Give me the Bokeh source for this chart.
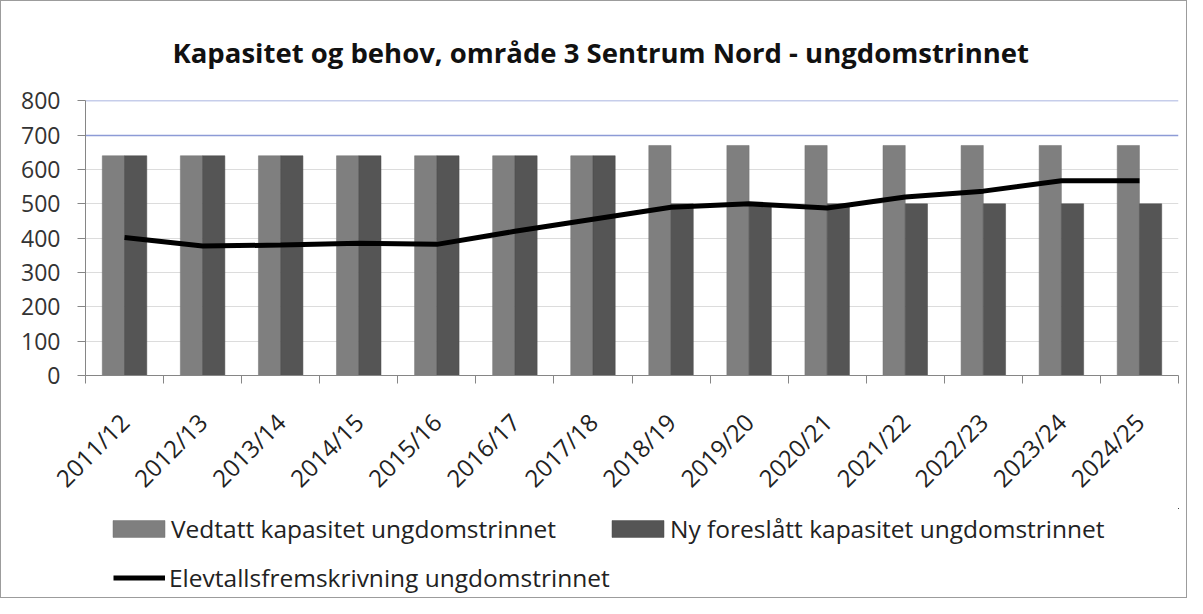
from bokeh.plotting import figure
from bokeh.layouts import column
from bokeh.models import (Range1d, FixedTicker, Legend, LegendItem, Grid,
                          ColumnDataSource)
from bokeh.embed import file_html
from bokeh.resources import INLINE

# ---- data ----
years = ["2011/12", "2012/13", "2013/14", "2014/15", "2015/16", "2016/17", "2017/18",
         "2018/19", "2019/20", "2020/21", "2021/22", "2022/23", "2023/24", "2024/25"]
vedtatt = [640, 640, 640, 640, 640, 640, 640, 670, 670, 670, 670, 670, 670, 670]
ny_foreslatt = [640, 640, 640, 640, 640, 640, 640, 500, 500, 500, 500, 500, 500, 500]
elevtall = [402, 377, 380, 385, 382, 420, 455, 490, 500, 488, 520, 537, 567, 567]

title_text = "Kapasitet og behov, område 3 Sentrum Nord - ungdomstrinnet"
names = ["Vedtatt kapasitet ungdomstrinnet", "Ny foreslått kapasitet ungdomstrinnet",
         "Elevtallsfremskrivning ungdomstrinnet"]
y_ticks = [0, 100, 200, 300, 400, 500, 600, 700, 800]

FONT = "Open Sans"
C_VED = "#7f7f7f"
C_NY = "#555555"
n = len(years)
centers = [i + 0.5 for i in range(n)]
bw = 0.285

src = ColumnDataSource(dict(
    x1=[c - bw / 2 for c in centers],
    x2=[c + bw / 2 for c in centers],
    xc=centers,
    v=vedtatt, nyv=ny_foreslatt, e=elevtall))

p = figure(width=1185, height=507, output_backend="svg", toolbar_location=None,
           x_range=Range1d(0, n), y_range=Range1d(0, 801),
           min_border_left=84, min_border_right=8, min_border_top=97,
           min_border_bottom=132)

p.title.text = title_text
p.title.text_font = FONT
p.title.text_font_size = "27.5px"
p.title.text_font_style = "bold"
p.title.text_color = "#111111"
p.title.align = "left"
p.title.offset = 87
p.title.standoff = 60

p.outline_line_color = None
p.background_fill_color = "white"
p.border_fill_color = "white"

# grids
p.xgrid.visible = False
p.ygrid.visible = False
g1 = Grid(dimension=1, ticker=FixedTicker(ticks=[700, 800]),
          grid_line_color="#8d9bd6", grid_line_width=1.5)
g2 = Grid(dimension=1, ticker=FixedTicker(ticks=[100, 200, 300, 400, 500, 600]),
          grid_line_color="#dcdcdc", grid_line_width=1)
p.add_layout(g2)
p.add_layout(g1)

r1 = p.vbar(x="x1", top="v", width=bw, bottom=0, source=src,
            fill_color=C_VED, line_color="#727272", line_width=0.5)
r2 = p.vbar(x="x2", top="nyv", width=bw, bottom=0, source=src,
            fill_color=C_NY, line_color="#4a4a4a", line_width=0.5)
r3 = p.line(x="xc", y="e", source=src, line_color="black", line_width=5)

# y axis
p.yaxis.ticker = FixedTicker(ticks=y_ticks)
p.yaxis.axis_line_color = "#868686"
p.yaxis.major_tick_line_color = "#868686"
p.yaxis.major_tick_out = 8
p.yaxis.major_tick_in = 0
p.yaxis.minor_tick_line_color = None
p.yaxis.major_label_text_font = FONT
p.yaxis.major_label_text_font_size = "23px"
p.yaxis.major_label_text_color = "#333333"
p.yaxis.major_label_standoff = 17

# x axis
p.xaxis.ticker = FixedTicker(ticks=centers, minor_ticks=list(range(n + 1)))
p.xaxis.major_label_overrides = {c: y for c, y in zip(centers, years)}
p.xaxis.major_tick_line_color = None
p.xaxis.major_tick_out = 0
p.xaxis.major_tick_in = 0
p.xaxis.minor_tick_line_color = "#868686"
p.xaxis.minor_tick_out = 8
p.xaxis.minor_tick_in = 0
p.xaxis.axis_line_color = "#868686"
p.xaxis.major_label_orientation = 0.785398
p.xaxis.major_label_text_font = FONT
p.xaxis.major_label_text_font_size = "24px"
p.xaxis.major_label_text_color = "#222222"
p.xaxis.major_label_standoff = 34

# ---- legend strip: own small figure; its renderers use the same data,
# but its ranges keep them out of view so only the legend shows ----
q = figure(width=1185, height=89, output_backend="svg", toolbar_location=None,
           x_range=Range1d(-3, -2), y_range=Range1d(-3, -2),
           x_axis_type=None, y_axis_type=None,
           min_border_left=0, min_border_right=0, min_border_top=0,
           min_border_bottom=0)
q.outline_line_color = None
q.xgrid.visible = False
q.ygrid.visible = False
l1 = q.vbar(x="x1", top="v", width=bw, bottom=0, source=src, fill_color=C_VED,
            line_color="#727272", line_width=0.5)
l2 = q.vbar(x="x2", top="nyv", width=bw, bottom=0, source=src, fill_color=C_NY,
            line_color="#4a4a4a", line_width=0.5)
l3 = q.line(x="xc", y="e", source=src, line_color="black", line_width=5)


def make_legend(label, rend, loc, gw, gh, standoff):
    lg = Legend(items=[LegendItem(label=label, renderers=[rend])],
                location=loc, orientation="vertical",
                label_text_font=FONT, label_text_font_size="24.5px",
                label_text_color="#222222",
                glyph_width=gw, glyph_height=gh, label_standoff=standoff,
                spacing=0, padding=0, margin=0,
                border_line_color=None, background_fill_alpha=0)
    q.add_layout(lg, "center")


make_legend(names[0], l1, (21, 52), 65, 21, -3)
make_legend(names[1], l2, (520, 52), 65, 21, -3)
make_legend(names[2], l3, (28, 3), 52, 21, 4)

lay = column(p, q, spacing=0,
             styles={"border": "1px solid #9c9c9c", "box-sizing": "content-box"})

open("out.html", "w").write(file_html(lay, INLINE))
